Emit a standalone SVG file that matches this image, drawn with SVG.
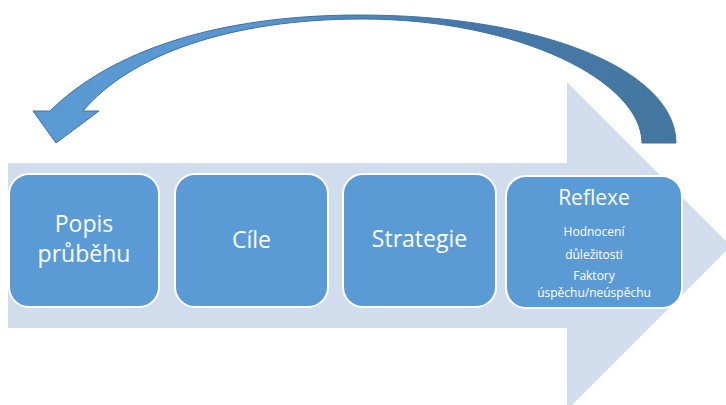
<svg xmlns="http://www.w3.org/2000/svg" width="726" height="405" viewBox="0 0 726 405">
  <style>
    .box { fill: #5B9BD5; stroke: #FFFFFF; stroke-width: 2; }
    .lbl { font-family: "Open Sans", "Noto Sans", "DejaVu Sans", sans-serif; fill: #FFFFFF; text-anchor: middle; }
    .big { font-size: 23px; }
    .mid { font-size: 21px; }
    .small { font-size: 12px; }
  </style>
  <defs>
    <linearGradient id="curveGrad" x1="0" y1="0" x2="1" y2="0" gradientUnits="objectBoundingBox">
      <stop offset="0" stop-color="#5B9BD5"/>
      <stop offset="0.35" stop-color="#5896CF"/>
      <stop offset="0.65" stop-color="#4679AB"/>
      <stop offset="1" stop-color="#44779F"/>
    </linearGradient>
  </defs>
  <rect width="726" height="405" fill="#FFFFFF"/>

  <g id="background-arrow">
    <path d="M 8,163 L 567,163 L 567,82 L 731,246 L 567,410 L 567,328 L 8,328 Z" fill="#D1DCED"/>
  </g>

  <g id="connectors">
    <path d="M 676,143 C 676,70 540,15 360,15 C 215,15 110,52 50,111 L 33,111 L 56,143 L 99,111 L 83,111 C 130,55 230,19 362,19 C 520,19 642,82 642,143 Z"
          fill="url(#curveGrad)" stroke="#41719C" stroke-width="1" stroke-linejoin="miter"/>
  </g>

  <g id="node-popis">
    <rect class="box" x="9" y="174" width="150" height="133" rx="20" ry="20"/>
    <text class="lbl big" x="84" y="232">Popis</text>
    <text class="lbl big" x="84" y="262">průběhu</text>
  </g>

  <g id="node-cile">
    <rect class="box" x="175" y="174" width="153" height="133" rx="20" ry="20"/>
    <text class="lbl big" x="251.5" y="248">Cíle</text>
  </g>

  <g id="node-strategie">
    <rect class="box" x="343" y="174" width="153" height="133" rx="20" ry="20"/>
    <text class="lbl big" x="419.5" y="247">Strategie</text>
  </g>

  <g id="node-reflexe">
    <rect class="box" x="506" y="176" width="176" height="132" rx="20" ry="20"/>
    <text class="lbl mid" x="594" y="205">Reflexe</text>
    <text class="lbl small" x="594" y="236">Hodnocení</text>
    <text class="lbl small" x="594" y="259">důležitosti</text>
    <text class="lbl small" x="594" y="280">Faktory</text>
    <text class="lbl small" x="594" y="297">úspěchu/neúspěchu</text>
  </g>
</svg>
